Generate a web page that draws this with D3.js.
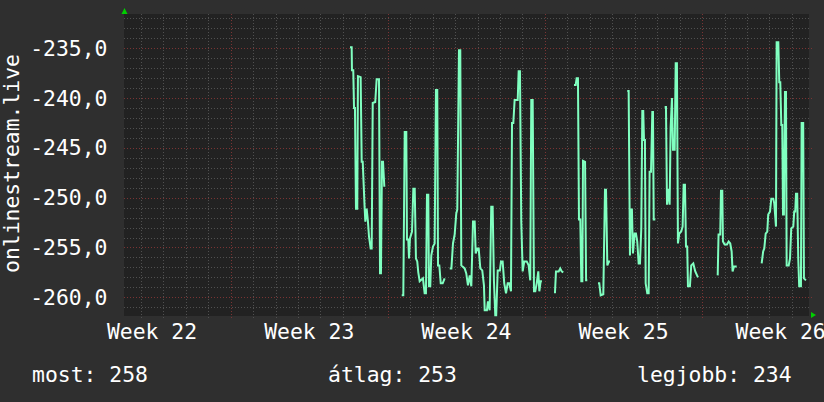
<!DOCTYPE html>
<html><head><meta charset="utf-8">
<script src="https://cdn.jsdelivr.net/npm/d3@7/dist/d3.min.js"></script>
<style>html,body{margin:0;padding:0;background:#2f2f2f;overflow:hidden}</style>
</head><body><svg id="c" width="824" height="402"></svg>
<script>
// hours since start of the window; null value = gap in data
const hours = [
241.6,243.4,243.7,245.1,245.9,246.9,248.0,249.4,250.1,253.0,254.1,255.2,257.3,258.0,259.4,260.8,261.9,263.7,264.8,265.9,268.6,270.1,272.6,273.7,274.7,275.8,276.9,278.3,
287,
296.9,298.6,300.1,301.8,302.5,303.9,304.7,305.7,307.9,309.3,310.8,312.1,313.5,314.6,316.1,319.6,321.4,322.8,323.9,325.3,326.0,327.4,328.5,330.3,332.1,333.5,334.9,335.7,337.1,338.6,340.7,342.8,
345,
348.2,350.0,351.7,353.5,355.2,356.3,358.1,359.5,360.6,364.2,365.9,367.7,369.6,371.3,373.1,374.9,376.0,377.7,379.2,380.9,383.0,384.8,385.6,388.0,389.1,390.9,392.6,394.1,395.5,396.9,397.9,399.5,401.9,403.0,404.8,406.5,408.4,410.2,411.9,413.7,414.8,416.2,417.6,420.9,421.9,423.3,424.7,426.2,427.9,430.5,432.6,434.3,435.4,436.9,438.3,439.7,441.2,442.9,444.0,445.4,446.8,
453,
460.7,461.8,464.7,466.4,467.9,469.6,
475,
481.1,482.9,483.9,485.3,486.4,487.8,488.9,490.0,490.7,492.9,494.0,495.3,
500,
506.7,508.1,509.6,512.4,514.2,515.3,516.7,518.5,519.5,
528,
538.0,539.5,540.9,541.6,543.0,544.1,545.9,547.3,548.7,550.2,551.6,553.0,554.1,555.1,555.9,556.9,557.7,559.4,560.9,561.9,563.4,564.8,565.5,566.3,568.0,
573,
578.0,579.4,580.5,582.3,583.3,584.4,585.8,586.9,588.7,589.8,591.1,592.2,593.6,595.7,597.2,598.3,599.7,600.8,602.1,602.9,605.0,606.4,608.6,610.7,613.6,
624,
634.7,635.6,637.4,638.2,639.6,640.3,642.1,644.6,646.4,648.1,649.6,650.6,652.1,655.0,
668,
681.7,683.3,684.5,686.0,687.7,688.7,690.6,692.0,694.1,695.2,697.0,697.7,699.5,700.5,701.6,702.7,703.7,704.5,705.5,706.6,707.7,708.4,710.6,712.0,713.3,715.5,716.5,717.6,718.4,719.7,720.8,721.8,723.7,724.4,726.1,726.9,729.0
];
const values = [
-234.9,-234.9,-237.2,-237.2,-241.0,-241.0,-251.1,-251.1,-237.8,-237.9,-246.4,-246.4,-251.1,-252.4,-251.1,-252.4,-253.9,-255.1,-255.1,-240.5,-240.4,-238.1,-238.1,-257.6,-257.6,-246.4,-246.4,-248.9,
null,
-259.8,-259.8,-243.4,-243.4,-254.2,-254.2,-256.1,-254.1,-253.4,-249.1,-249.1,-256.1,-256.4,-257.5,-258.4,-258.1,-259.6,-259.6,-249.7,-249.7,-258.9,-258.9,-255.8,-254.9,-254.6,-239.2,-239.2,-256.8,-256.8,-258.6,-258.6,-258.1,
null,
-257.1,-257.1,-254.6,-253.7,-251.6,-251.2,-235.2,-235.2,-256.8,-257.1,-257.6,-258.8,-257.8,-258.9,-252.4,-252.4,-255.6,-255.1,-255.1,-257.1,-257.3,-258.8,-261.3,-261.3,-260.4,-261.3,-250.9,-250.9,-258.4,-261.8,-261.8,-257.3,-257.3,-256.4,-256.4,-258.6,-259.6,-258.6,-258.6,-259.4,-242.5,-242.5,-240.2,-240.2,-237.3,-237.3,-252.4,-257.4,-256.4,-256.4,-256.8,-258.3,-240.2,-240.2,-259.4,-259.4,-258.6,-257.4,-259.4,-258.4,-258.4,
null,
-259.6,-257.4,-257.4,-257.1,-257.4,-257.5,
null,
-238.7,-238.7,-238.0,-238.0,-252.2,-252.2,-258.4,-258.4,-246.3,-246.4,-258.3,-258.3,
null,
-258.6,-258.6,-259.8,-259.7,-249.2,-249.2,-256.8,-256.4,-256.4,
null,
-239.3,-239.3,-255.8,-251.2,-251.2,-255.6,-253.6,-253.6,-254.4,-256.6,-256.6,-253.1,-241.3,-241.3,-244.2,-244.2,-258.6,-259.6,-259.6,-247.4,-247.4,-241.4,-241.4,-252.2,-252.2,
null,
-240.9,-240.9,-250.7,-249.1,-250.7,-242.9,-240.0,-245.2,-245.2,-236.5,-236.5,-254.6,-253.6,-253.4,-252.9,-248.7,-248.7,-254.9,-254.9,-258.9,-258.9,-256.8,-256.6,-257.4,-258.0,
null,
-257.8,-253.7,-253.7,-249.3,-249.3,-254.4,-254.7,-254.7,-254.4,-254.6,-255.4,-257.4,-256.9,-256.9,
null,
-256.6,-255.4,-255.1,-253.6,-253.4,-251.7,-251.4,-250.1,-250.1,-250.6,-252.9,-234.4,-234.4,-238.4,-238.4,-242.7,-242.7,-251.7,-251.7,-239.4,-239.4,-256.8,-256.8,-256.1,-253.1,-252.9,-251.4,-251.4,-249.6,-249.6,-256.1,-258.9,-258.9,-242.5,-242.5,-258.1,-258.3
];
const yMajorTicks = [-260,-255,-250,-245,-240,-235];
const weekLabels = ["Week 22","Week 23","Week 24","Week 25","Week 26"];
const weekLabelHours = [30,198,366,534,702];
const weekGridHours = [114,282,450,618];
const legendLabels = ["most: 258","átlag: 253","legjobb: 234"];
const yTitle = "onlinestream.live";

const P = {left:124,right:809,top:14,bottom:316};
const x = d3.scaleLinear().domain([0,732.3]).range([P.left,P.right]);
const y = d3.scaleLinear().domain([-261.88,-231.56]).range([P.bottom,P.top]);
const FONT = "'DejaVu Sans Mono', monospace";
const FS = 21.4;
const svg = d3.select("#c");
const px = v => Math.round(v)+0.5;

svg.append("rect").attr("width",824).attr("height",402).attr("fill","#2f2f2f");
svg.append("rect").attr("x",P.left).attr("y",P.top).attr("width",P.right-P.left).attr("height",P.bottom-P.top).attr("fill","#222222");

const g = svg.append("g");
const yMinor = d3.range(-261,-231).filter(v=>v%5!==0);
g.selectAll("line.hm").data(yMinor).join("line")
  .attr("x1",P.left).attr("x2",P.right).attr("y1",d=>px(y(d))).attr("y2",d=>px(y(d)))
  .attr("stroke","#505050").attr("stroke-dasharray","1,2").attr("shape-rendering","crispEdges");
const dayHours = d3.range(18,732,24).filter(h=>!weekGridHours.includes(h));
g.selectAll("line.vm").data(dayHours).join("line")
  .attr("y1",P.top).attr("y2",P.bottom+3).attr("x1",d=>px(x(d))).attr("x2",d=>px(x(d)))
  .attr("stroke","#505050").attr("stroke-dasharray","1,2").attr("shape-rendering","crispEdges");
g.selectAll("line.hM").data(yMajorTicks).join("line")
  .attr("x1",P.left).attr("x2",P.right+3).attr("y1",d=>px(y(d))).attr("y2",d=>px(y(d)))
  .attr("stroke","#7a3434").attr("stroke-dasharray","1,2").attr("shape-rendering","crispEdges");
g.selectAll("line.vM").data(weekGridHours).join("line")
  .attr("y1",P.top).attr("y2",P.bottom+4).attr("x1",d=>px(x(d))).attr("x2",d=>px(x(d)))
  .attr("stroke","#7a3434").attr("stroke-dasharray","1,2").attr("shape-rendering","crispEdges");

svg.append("path").attr("d",`M${P.left-2.5},${P.top} L${P.left+3.5},${P.top} L${P.left+0.5},${P.top-6} Z`).attr("fill","#00d000");
svg.append("path").attr("d",`M${P.right+2},${P.bottom-4} L${P.right+2},${P.bottom+2} L${P.right+7},${P.bottom-1} Z`).attr("fill","#00d000");

const pts = hours.map((h,i)=>[h,values[i]]);
const line = d3.line().defined(d=>d[1]!==null).x(d=>x(d[0])).y(d=>y(d[1]));
svg.append("path").datum(pts).attr("d",line).attr("fill","none")
  .attr("stroke","#80ffc0").attr("stroke-width",2).attr("stroke-linejoin","miter");

const fmt = v => d3.format(".1f")(v).replace(".",",").replace("−","-");
svg.selectAll("text.yl").data(yMajorTicks).join("text")
  .attr("x",107.5).attr("y",d=>y(d)+7.5).attr("text-anchor","end")
  .attr("font-family",FONT).attr("font-size",FS).attr("fill","#ffffff").text(fmt);
svg.selectAll("text.xl").data(weekLabels).join("text")
  .attr("x",(d,i)=>x(weekLabelHours[i])).attr("y",338.5).attr("text-anchor","middle")
  .attr("font-family",FONT).attr("font-size",FS).attr("fill","#ffffff").text(d=>d);
svg.append("text").attr("transform",`translate(18.5,${(P.top+P.bottom)/2-1.5}) rotate(-90)`)
  .attr("text-anchor","middle").attr("font-family",FONT).attr("font-size",FS).attr("fill","#ffffff").text(yTitle);
const legendX = [32,328,637];
svg.selectAll("text.lg").data(legendLabels).join("text")
  .attr("x",(d,i)=>legendX[i]).attr("y",381.5).attr("font-family",FONT).attr("font-size",FS)
  .attr("fill","#ffffff").attr("xml:space","preserve").text(d=>d);
</script></body></html>
